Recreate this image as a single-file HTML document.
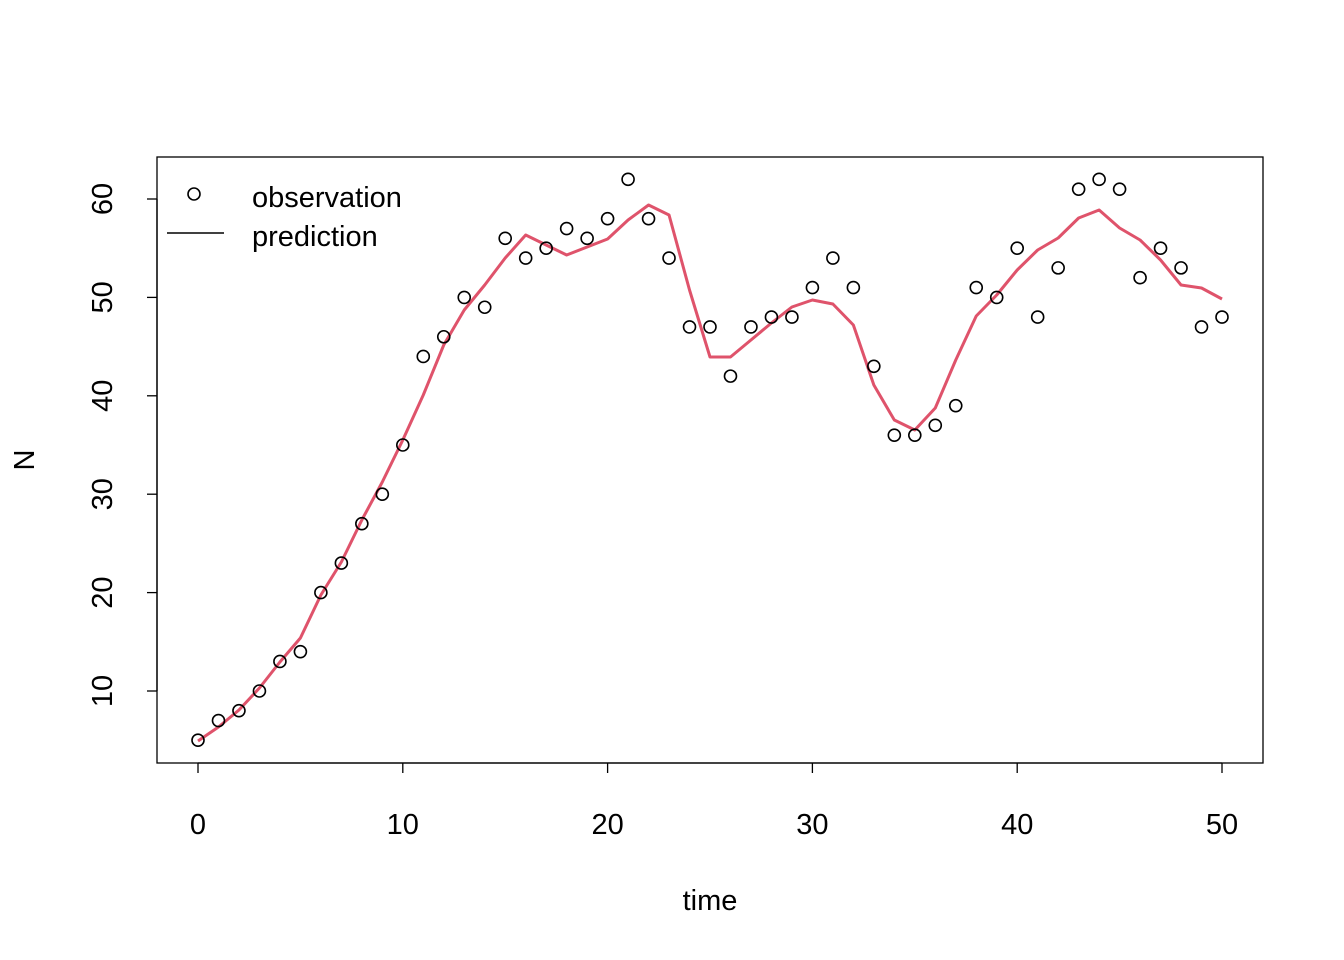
<!DOCTYPE html>
<html><head><meta charset="utf-8"><style>
html,body{margin:0;padding:0;background:#fff}
svg{display:block}
text{font-family:"Liberation Sans",Arial,sans-serif;font-size:29px;fill:#000}
</style></head><body>
<svg id="s" width="1344" height="960" xmlns="http://www.w3.org/2000/svg">
<rect x="157" y="157" width="1106" height="606" fill="none" stroke="#000" stroke-width="1.3"/>
<g id="ticks"></g>
<text x="710" y="910" text-anchor="middle">time</text>
<text transform="translate(34,460) rotate(-90)" text-anchor="middle">N</text>
<polyline id="pred" fill="none" stroke="#DF536B" stroke-width="3" stroke-linejoin="round"/>
<g id="pts" fill="none" stroke="#000" stroke-width="1.6"></g>
<circle cx="194" cy="194" r="6" fill="none" stroke="#000" stroke-width="1.6"/>
<line x1="167" y1="233" x2="224" y2="233" stroke="#000" stroke-width="1.5"/>
<text x="252" y="207">observation</text>
<text x="252" y="246">prediction</text>
</svg>
<script>
var ns="http://www.w3.org/2000/svg";
function X(t){return 198+t*20.48}
function Y(v){return 789.4-v*9.84}
var obs=[5,7,8,10,13,14,20,23,27,30,35,44,46,50,49,56,54,55,57,56,58,62,58,54,47,47,42,47,48,48,51,54,51,43,36,36,37,39,51,50,55,48,53,61,62,61,52,55,53,47,48];
var pr=[741,727,710,688,662,638,595,562,520,482,440,395,345,310,285,258,235,245,255,247,239,220,205,215,290,357,357,340,323,307,300,304,325,385,420,430,408,360,316,295,270,250,238,218,210,228,240,260,285,288,299];
var g=document.getElementById("pts"),s="";
for(var i=0;i<obs.length;i++){var c=document.createElementNS(ns,"circle");c.setAttribute("cx",X(i));c.setAttribute("cy",Y(obs[i]));c.setAttribute("r",6);g.appendChild(c);s+=X(i)+","+pr[i]+" ";}
document.getElementById("pred").setAttribute("points",s);
var tk=document.getElementById("ticks");
function el(n,a,t){var e=document.createElementNS(ns,n);for(var k in a)e.setAttribute(k,a[k]);if(t!==undefined)e.textContent=t;tk.appendChild(e);}
el("line",{x1:198,y1:763,x2:1222,y2:763,stroke:"#000","stroke-width":1.3});
for(var t=0;t<=50;t+=10){el("line",{x1:X(t),y1:763,x2:X(t),y2:773,stroke:"#000","stroke-width":1.3});el("text",{x:X(t),y:834,"text-anchor":"middle"},t);}
el("line",{x1:157,y1:Y(10),x2:157,y2:Y(60),stroke:"#000","stroke-width":1.3});
for(var v=10;v<=60;v+=10){el("line",{x1:147,y1:Y(v),x2:157,y2:Y(v),stroke:"#000","stroke-width":1.3});el("text",{transform:"translate(112,"+Y(v)+") rotate(-90)","text-anchor":"middle"},v);}
</script>
</body></html>
